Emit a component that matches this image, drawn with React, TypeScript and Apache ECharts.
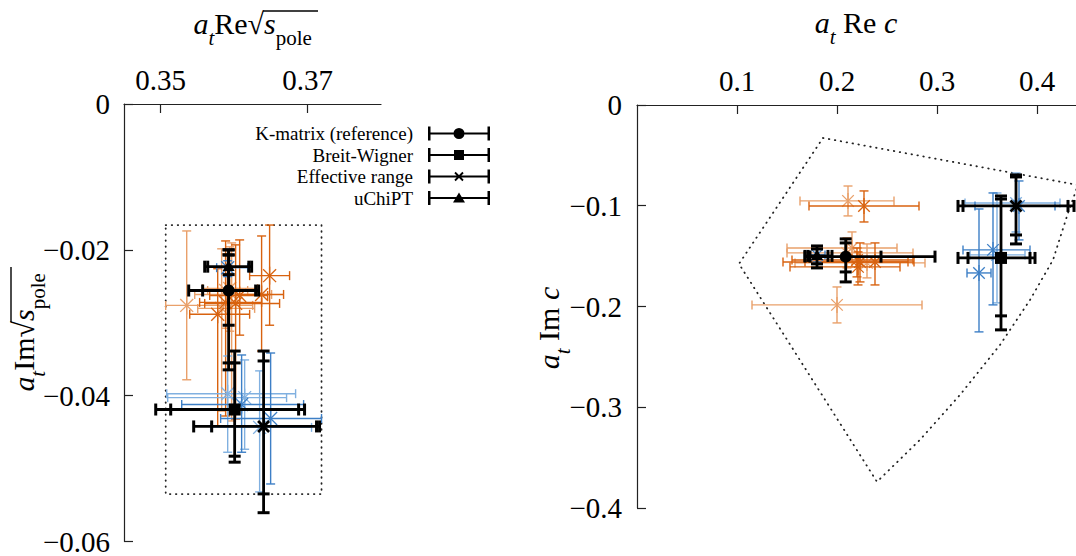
import React, { useEffect, useRef } from 'react';
import * as echarts from 'echarts';

// ---------- tick values ----------
const leftXTicks = [0.35, 0.37];
const rightXTicks = [0.1, 0.2, 0.3, 0.4];

// ---------- data: [x, y, xLow, xHigh, yLow, yHigh] ----------
// Left panel: a_t Re sqrt(s_pole) vs a_t Im sqrt(s_pole)
const leftOrangeLight = [
  [0.35354, -0.02762, 0.35068, 0.36252, -0.03782, -0.01741],
  [0.35966, -0.02612, 0.35463, 0.3651, -0.04347, -0.01905],
  [0.3583, -0.02803, 0.35504, 0.36279, -0.04211, -0.01986],
  [0.35939, -0.02531, 0.35571, 0.3632, -0.03116, -0.01959],
  [0.35884, -0.02558, 0.35639, 0.36184, -0.03075, -0.02054],
];
const leftOrangeDark = [
  [0.36483, -0.02354, 0.36211, 0.36755, -0.03034, -0.0166],
  [0.36374, -0.02612, 0.3602, 0.36673, -0.03388, -0.0181],
  [0.35884, -0.02721, 0.3553, 0.36374, -0.04279, -0.01878],
  [0.3602, -0.02735, 0.35599, 0.36619, -0.0432, -0.01932],
  [0.36075, -0.02626, 0.35667, 0.36456, -0.0317, -0.01864],
  [0.35776, -0.02884, 0.35395, 0.36211, -0.04415, -0.02259],
];
const leftBlueLight = [
  [0.35912, -0.03973, 0.35082, 0.36837, -0.04776, -0.03456],
  [0.36347, -0.04435, 0.3568, 0.37054, -0.0532, -0.0366],
  [0.36143, -0.04027, 0.35095, 0.36714, -0.04735, -0.0351],
];
const leftBlueDark = [
  [0.36102, -0.04122, 0.35286, 0.36946, -0.04776, -0.03442],
  [0.36497, -0.04313, 0.35816, 0.3719, -0.05211, -0.03415],
  [0.35912, -0.02245, 0.35762, 0.36184, -0.02367, -0.0215],
];
// black points: [x, y, xLow, xHigh, yLow, yHigh, xLowStat, xHighStat, yLowStat, yHighStat]
const leftKMatrix = [[0.35925, -0.02558, 0.35381, 0.36333, -0.03646, -0.02, 0.35571, 0.36293, -0.03551, -0.0207]];
const leftBreitWigner = [[0.36007, -0.0419, 0.34932, 0.36959, -0.04912, -0.03388, 0.35136, 0.36878, -0.0483, -0.03551]];
const leftEffectiveRange = [[0.36401, -0.04422, 0.35449, 0.37163, -0.05605, -0.03388, 0.35694, 0.37122, -0.05347, -0.03524]];
const leftUChiPT = [[0.35925, -0.02231, 0.35599, 0.36238, -0.03034, -0.02, 0.3564, 0.362, -0.0234, -0.0207]];
const leftBoxX = [0.35068, 0.3719, 0.3719, 0.35068, 0.35068];
const leftBoxY = [-0.0166, -0.0166, -0.0535, -0.0535, -0.0166];

// Right panel: a_t Re c vs a_t Im c
const rightOrangeLight = [
  [0.211, -0.0952, 0.163, 0.257, -0.1101, -0.0804],
  [0.2, -0.1984, 0.115, 0.285, -0.2163, -0.1806],
  [0.215, -0.1419, 0.15, 0.26, -0.1607, -0.126],
  [0.23, -0.1567, 0.158, 0.288, -0.1716, -0.1379],
  [0.21, -0.1468, 0.15, 0.276, -0.1617, -0.1319],
];
const rightOrangeDark = [
  [0.227, -0.1002, 0.172, 0.282, -0.1161, -0.0853],
  [0.22, -0.1538, 0.155, 0.276, -0.1706, -0.1419],
  [0.223, -0.1558, 0.146, 0.277, -0.1756, -0.1369],
  [0.221, -0.1607, 0.153, 0.263, -0.1786, -0.1458],
  [0.238, -0.1558, 0.168, 0.271, -0.1786, -0.1369],
];
const rightBlueLight = [
  [0.379, -0.0972, 0.328, 0.423, -0.126, -0.0675],
  [0.36, -0.1488, 0.333, 0.388, -0.1964, -0.0873],
];
const rightBlueDark = [
  [0.382, -0.1002, 0.338, 0.418, -0.1339, -0.0754],
  [0.356, -0.1438, 0.326, 0.393, -0.1984, -0.0873],
  [0.342, -0.1667, 0.33, 0.354, -0.2252, -0.1032],
  [0.18, -0.1488, 0.173, 0.188, -0.1558, -0.1429],
];
const rightKMatrix = [[0.2087, -0.1505, 0.168, 0.298, -0.1756, -0.1329, 0.173, 0.244, -0.1657, -0.1369]];
const rightBreitWigner = [[0.364, -0.1518, 0.321, 0.398, -0.2232, -0.0903, 0.331, 0.393, -0.2093, -0.0933]];
const rightEffectiveRange = [[0.379, -0.1002, 0.321, 0.437, -0.1379, -0.0694, 0.326, 0.431, -0.129, -0.0714]];
const rightUChiPT = [[0.18, -0.1498, 0.168, 0.195, -0.1617, -0.1399, 0.171, 0.191, -0.1577, -0.1429]];
const rightHullX = [0.186, 0.441, 0.431, 0.416, 0.393, 0.363, 0.323, 0.283, 0.24, 0.102, 0.186];
const rightHullY = [-0.0327, -0.0794, -0.1071, -0.1538, -0.1935, -0.2381, -0.2877, -0.3323, -0.374, -0.1577, -0.0327];

// ---------- styles ----------
const SERIF = '"Liberation Serif", "DejaVu Serif", serif';
const C_ORANGE = '#d8620f';
const C_ORANGE_LIGHT = '#e9a06a';
const C_BLUE = '#3d7fc6';
const C_BLUE_LIGHT = '#80b0e0';

const NAMES = ['K-matrix (reference)', 'Breit-Wigner', 'Effective range', 'uChiPT'];
const ICON_BASE = 'M0 6H62V8H0Z M0 0H2.5V14H0Z M59.5 0H62V14H59.5Z ';
const ICONS = [
  'path://' + ICON_BASE + 'M25.5 7A5.5 5.5 0 1 1 36.5 7A5.5 5.5 0 1 1 25.5 7Z',
  'path://' + ICON_BASE + 'M26 2H36V12H26Z',
  'path://' + ICON_BASE + 'M27.64 2.36L35.64 10.36L34.36 11.64L26.36 3.64Z M26.36 10.36L34.36 2.36L35.64 3.64L27.64 11.64Z',
  'path://' + ICON_BASE + 'M31 1.5L37 11.5L25 11.5Z',
];

type Opts = { color: string; lw: number; cap: number; capLw: number; marker: string; size: number; mlw: number; stat?: boolean };

function makeRender(o: Opts) {
  return (params: any, api: any) => {
    const x = api.value(0), y = api.value(1);
    const c = api.coord([x, y]);
    const cx = c[0], cy = c[1];
    const px = (v: number) => api.coord([v, y])[0];
    const py = (v: number) => api.coord([x, v])[1];
    const kids: any[] = [];
    const seg = (x1: number, y1: number, x2: number, y2: number, lw: number) =>
      kids.push({ type: 'line', shape: { x1, y1, x2, y2 }, style: { stroke: o.color, lineWidth: lw, fill: null } });
    const xs = [px(api.value(2)), px(api.value(3))];
    const ys = [py(api.value(4)), py(api.value(5))];
    seg(xs[0], cy, xs[1], cy, o.lw);
    seg(cx, ys[0], cx, ys[1], o.lw);
    if (o.stat) {
      xs.push(px(api.value(6)), px(api.value(7)));
      ys.push(py(api.value(8)), py(api.value(9)));
    }
    const h = o.cap / 2;
    xs.forEach((v) => seg(v, cy - h, v, cy + h, o.capLw));
    ys.forEach((v) => seg(cx - h, v, cx + h, v, o.capLw));
    const r = o.size;
    if (o.marker === 'asterisk') {
      const d = r * 0.72;
      seg(cx, cy - r, cx, cy + r, o.mlw);
      seg(cx - d, cy - d, cx + d, cy + d, o.mlw);
      seg(cx - d, cy + d, cx + d, cy - d, o.mlw);
    } else if (o.marker === 'circle') {
      kids.push({ type: 'circle', shape: { cx, cy, r }, style: { fill: o.color } });
    } else if (o.marker === 'square') {
      kids.push({ type: 'rect', shape: { x: cx - r, y: cy - r, width: 2 * r, height: 2 * r }, style: { fill: o.color } });
    } else if (o.marker === 'cross') {
      seg(cx - r, cy - r, cx + r, cy + r, o.mlw);
      seg(cx - r, cy + r, cx + r, cy - r, o.mlw);
    } else if (o.marker === 'triangle') {
      kids.push({ type: 'polygon', shape: { points: [[cx, cy - r * 1.1], [cx + r, cy + r * 0.7], [cx - r, cy + r * 0.7]] }, style: { fill: o.color } });
    }
    return { type: 'group', children: kids };
  };
}

function colorSeries(name: string, data: number[][], gi: number, color: string, size: number) {
  return {
    type: 'custom', name, coordinateSystem: 'cartesian2d', xAxisIndex: gi, yAxisIndex: gi,
    data, silent: true, z: 2, clip: false,
    renderItem: makeRender({ color, lw: 1.4, cap: 9, capLw: 1.4, marker: 'asterisk', size, mlw: 1.3 }),
  };
}

function blackSeries(idx: number, data: number[][], gi: number) {
  const markers = ['circle', 'square', 'cross', 'triangle'];
  const sizes = [6, 6, 5.5, 6];
  return {
    type: 'custom', name: NAMES[idx], coordinateSystem: 'cartesian2d', xAxisIndex: gi, yAxisIndex: gi,
    data, silent: true, z: 3, clip: false, itemStyle: { color: '#000' },
    renderItem: makeRender({ color: '#000', lw: 2.8, cap: 12, capLw: 3, marker: markers[idx], size: sizes[idx], mlw: 2.8, stat: true }),
  };
}

function outline(xs: number[], ys: number[], gi: number) {
  return {
    type: 'line', xAxisIndex: gi, yAxisIndex: gi, data: xs.map((v, i) => [v, ys[i]]),
    symbol: 'none', silent: true, z: 1, clip: true,
    lineStyle: { color: '#222', width: 1.8, type: [0.5, 5.5], cap: 'round' },
  };
}

const axisLineStyle = { color: '#222', width: 1.2 };
const labelStyle = { fontFamily: SERIF, fontSize: 29, color: '#000' };
const minus = (v: number, d: number) => (Math.abs(v) < 1e-9 ? '0' : (v < 0 ? '\u2212' : '') + Math.abs(v).toFixed(d));

const rich = {
  i: { fontFamily: SERIF, fontStyle: 'italic', fontSize: 30, color: '#000', verticalAlign: 'top', lineHeight: 34 },
  r: { fontFamily: SERIF, fontSize: 30, color: '#000', verticalAlign: 'top', lineHeight: 34 },
  sub: { fontFamily: SERIF, fontStyle: 'italic', fontSize: 21, color: '#000', verticalAlign: 'bottom', lineHeight: 40 },
  subr: { fontFamily: SERIF, fontSize: 21, color: '#000', verticalAlign: 'bottom', lineHeight: 40 },
};

function titleText(text: string, x: number, y: number, align: string) {
  return { type: 'text', x, y, silent: true, style: { text, rich, align, verticalAlign: 'middle', font: '30px ' + SERIF, fill: '#000' } };
}

// title with a square root whose bar is drawn over the radicand
function sqrtTitle(prefix: string, x: number, y: number, rot: number) {
  const split = 12;
  return {
    type: 'group', x, y, rotation: rot, silent: true,
    children: [
      titleText(prefix + '{r|\u221A}', split, 0, 'right'),
      titleText('{i|s}{subr|pole}', split, 0, 'left'),
      { type: 'line', shape: { x1: split - 1, y1: -17, x2: split + 54, y2: -17 }, style: { stroke: '#000', lineWidth: 1.4 } },
    ],
  };
}

function plainTitle(text: string, x: number, y: number, rot: number) {
  return { type: 'group', x, y, rotation: rot, silent: true, children: [titleText(text, 0, 0, 'center')] };
}

const option: any = {
  animation: false,
  backgroundColor: '#fff',
  grid: [
    { left: 124, top: 104, width: 257, height: 441 },
    { left: 637, top: 105, width: 439, height: 403 },
  ],
  xAxis: [
    {
      gridIndex: 0, type: 'value', position: 'top', min: 0.345, max: 0.38,
      axisLine: { show: true, onZero: false, lineStyle: axisLineStyle },
      axisTick: { show: true, inside: true, length: 9, customValues: leftXTicks, lineStyle: axisLineStyle },
      axisLabel: { ...labelStyle, customValues: leftXTicks, margin: 10, formatter: (v: number) => v.toFixed(2) },
      splitLine: { show: false },
    },
    {
      gridIndex: 1, type: 'value', position: 'top', min: 0, max: 0.439,
      axisLine: { show: true, onZero: false, lineStyle: axisLineStyle },
      axisTick: { show: true, inside: true, length: 9, customValues: rightXTicks, lineStyle: axisLineStyle },
      axisLabel: { ...labelStyle, customValues: rightXTicks, margin: 10, formatter: (v: number) => v.toFixed(1) },
      splitLine: { show: false },
    },
  ],
  yAxis: [
    {
      gridIndex: 0, type: 'value', min: -0.06, max: 0, interval: 0.02,
      axisLine: { show: true, onZero: false, lineStyle: axisLineStyle },
      axisTick: { show: true, inside: true, length: 9, lineStyle: axisLineStyle },
      axisLabel: { ...labelStyle, margin: 14, formatter: (v: number) => minus(v, 2) },
      splitLine: { show: false },
    },
    {
      gridIndex: 1, type: 'value', min: -0.4, max: 0, interval: 0.1,
      axisLine: { show: true, onZero: false, lineStyle: axisLineStyle },
      axisTick: { show: true, inside: true, length: 9, lineStyle: axisLineStyle },
      axisLabel: { ...labelStyle, margin: 15, formatter: (v: number) => minus(v, 1) },
      splitLine: { show: false },
    },
  ],
  legend: NAMES.map((n, i) => ({
    right: 586, top: [124, 145.5, 167, 188.5][i], orient: 'vertical', align: 'right', padding: 0,
    itemWidth: 62, itemHeight: 14, selectedMode: false,
    data: [{ name: n, icon: ICONS[i] }],
    textStyle: { fontFamily: SERIF, fontSize: 19, lineHeight: 14, color: '#000', padding: [0, 10, 0, 0] },
  })),
  graphic: [
    sqrtTitle('{i|a}{sub|t}{r|Re}', 252, 28, 0),
    plainTitle('{i|a}{sub|t}{r| Re }{i|c}', 856, 27, 0),
    sqrtTitle('{i|a}{sub|t}{r|Im}', 28, 333, Math.PI / 2),
    plainTitle('{i|a}{sub|t}{r| Im }{i|c}', 553, 328, Math.PI / 2),
  ],
  series: [
    outline(leftBoxX, leftBoxY, 0),
    outline(rightHullX, rightHullY, 1),
    colorSeries('left orange light', leftOrangeLight, 0, C_ORANGE_LIGHT, 9),
    colorSeries('left orange', leftOrangeDark, 0, C_ORANGE, 9),
    colorSeries('left blue light', leftBlueLight, 0, C_BLUE_LIGHT, 9),
    colorSeries('left blue', leftBlueDark, 0, C_BLUE, 9),
    colorSeries('right orange light', rightOrangeLight, 1, C_ORANGE_LIGHT, 8),
    colorSeries('right orange', rightOrangeDark, 1, C_ORANGE, 8),
    colorSeries('right blue light', rightBlueLight, 1, C_BLUE_LIGHT, 8),
    colorSeries('right blue', rightBlueDark, 1, C_BLUE, 8),
    blackSeries(3, leftUChiPT, 0),
    blackSeries(0, leftKMatrix, 0),
    blackSeries(1, leftBreitWigner, 0),
    blackSeries(2, leftEffectiveRange, 0),
    blackSeries(3, rightUChiPT, 1),
    blackSeries(0, rightKMatrix, 1),
    blackSeries(1, rightBreitWigner, 1),
    blackSeries(2, rightEffectiveRange, 1),
  ],
};

export default function App() {
  const ref = useRef<HTMLDivElement>(null);
  useEffect(() => {
    const chart = echarts.init(ref.current!, null, { renderer: 'svg' });
    chart.setOption(option);
    return () => chart.dispose();
  }, []);
  return (
    <div
      ref={ref}
      style={{ position: 'absolute', left: 0, top: 0, width: 1076, height: 556, background: '#fff' }}
    />
  );
}
